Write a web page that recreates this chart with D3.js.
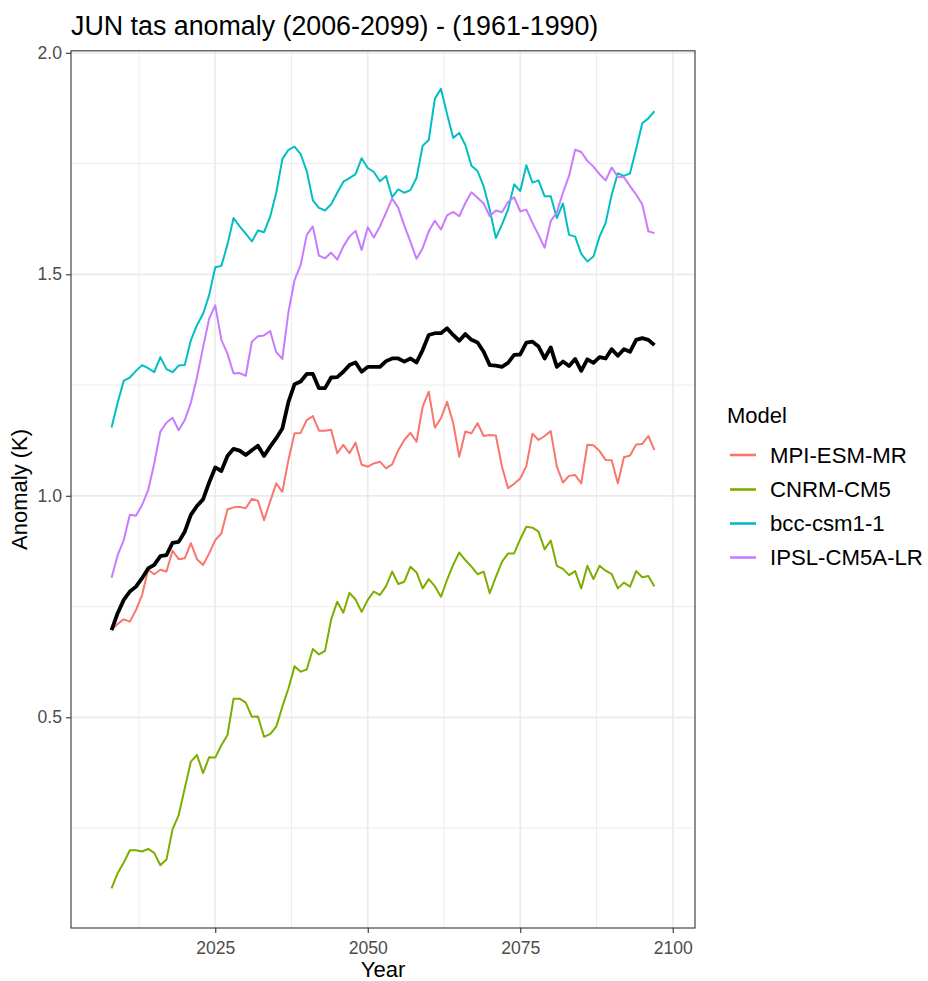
<!DOCTYPE html>
<html><head><meta charset="utf-8">
<script src="https://cdn.jsdelivr.net/npm/d3@7"></script>
<style>
body{margin:0;background:#fff}
text{font-family:"Liberation Sans",Arial,Helvetica,sans-serif}
</style>
</head><body>
<svg id="chart" width="928" height="981"></svg>
<script>
const years = [2008,2009,2010,2011,2012,2013,2014,2015,2016,2017,2018,2019,2020,2021,2022,2023,2024,2025,2026,2027,2028,2029,2030,2031,2032,2033,2034,2035,2036,2037,2038,2039,2040,2041,2042,2043,2044,2045,2046,2047,2048,2049,2050,2051,2052,2053,2054,2055,2056,2057,2058,2059,2060,2061,2062,2063,2064,2065,2066,2067,2068,2069,2070,2071,2072,2073,2074,2075,2076,2077,2078,2079,2080,2081,2082,2083,2084,2085,2086,2087,2088,2089,2090,2091,2092,2093,2094,2095,2096,2097];

const models = ["MPI-ESM-MR","CNRM-CM5","bcc-csm1-1","IPSL-CM5A-LR"];
const modelColors = ["#F8766D","#7CAE00","#00BFC4","#C77CFF"];

const mpiEsmMr = [0.697,0.711,0.721,0.716,0.742,0.776,0.833,0.823,0.833,0.829,0.876,0.857,0.859,0.893,0.857,0.844,0.870,0.900,0.915,0.969,0.974,0.975,0.972,0.993,0.989,0.945,0.987,1.028,1.009,1.081,1.141,1.142,1.171,1.180,1.147,1.147,1.149,1.096,1.115,1.096,1.120,1.070,1.066,1.073,1.077,1.062,1.071,1.103,1.126,1.142,1.122,1.201,1.235,1.154,1.175,1.212,1.165,1.088,1.145,1.141,1.164,1.135,1.137,1.136,1.066,1.017,1.027,1.039,1.067,1.140,1.126,1.135,1.146,1.066,1.030,1.045,1.047,1.028,1.115,1.114,1.101,1.081,1.080,1.028,1.087,1.091,1.116,1.117,1.135,1.103];

const cnrmCm5 = [0.114,0.148,0.172,0.200,0.200,0.197,0.203,0.194,0.166,0.179,0.247,0.279,0.340,0.400,0.415,0.374,0.410,0.409,0.437,0.460,0.542,0.542,0.533,0.501,0.502,0.456,0.462,0.479,0.524,0.565,0.615,0.603,0.608,0.654,0.642,0.650,0.721,0.761,0.736,0.781,0.766,0.738,0.765,0.784,0.776,0.796,0.829,0.801,0.806,0.840,0.827,0.791,0.812,0.796,0.772,0.810,0.844,0.872,0.855,0.840,0.823,0.829,0.780,0.817,0.851,0.870,0.870,0.902,0.930,0.928,0.919,0.879,0.899,0.842,0.835,0.821,0.830,0.791,0.842,0.812,0.842,0.831,0.823,0.791,0.804,0.795,0.830,0.816,0.819,0.795];

const bccCsm11 = [1.154,1.210,1.260,1.267,1.282,1.295,1.288,1.279,1.313,1.286,1.279,1.294,1.295,1.351,1.385,1.411,1.453,1.516,1.519,1.567,1.627,1.608,1.592,1.574,1.599,1.595,1.630,1.684,1.760,1.781,1.788,1.771,1.733,1.667,1.650,1.644,1.658,1.684,1.709,1.717,1.726,1.762,1.740,1.731,1.710,1.722,1.674,1.692,1.684,1.690,1.718,1.790,1.803,1.896,1.919,1.862,1.808,1.819,1.792,1.745,1.733,1.699,1.646,1.582,1.612,1.646,1.703,1.688,1.746,1.707,1.712,1.676,1.676,1.627,1.660,1.589,1.585,1.546,1.529,1.540,1.585,1.616,1.680,1.728,1.722,1.728,1.783,1.841,1.852,1.868];

const ipslCm5aLr = [0.815,0.866,0.900,0.957,0.955,0.979,1.013,1.073,1.145,1.165,1.176,1.148,1.171,1.210,1.267,1.335,1.400,1.430,1.352,1.321,1.276,1.277,1.271,1.348,1.360,1.362,1.372,1.324,1.309,1.415,1.487,1.521,1.589,1.608,1.542,1.536,1.549,1.533,1.563,1.585,1.598,1.555,1.606,1.583,1.608,1.639,1.671,1.650,1.610,1.573,1.535,1.559,1.597,1.621,1.601,1.633,1.641,1.631,1.661,1.685,1.673,1.660,1.631,1.644,1.640,1.663,1.674,1.642,1.646,1.616,1.589,1.560,1.620,1.640,1.684,1.722,1.781,1.776,1.756,1.743,1.726,1.712,1.741,1.720,1.719,1.699,1.680,1.658,1.597,1.593];

const ensembleMean = [0.697,0.735,0.765,0.784,0.795,0.814,0.836,0.844,0.864,0.866,0.894,0.896,0.919,0.957,0.977,0.992,1.030,1.064,1.056,1.090,1.106,1.102,1.092,1.103,1.113,1.090,1.111,1.130,1.152,1.212,1.252,1.258,1.275,1.275,1.243,1.243,1.267,1.268,1.280,1.295,1.301,1.280,1.291,1.291,1.291,1.304,1.310,1.310,1.303,1.310,1.301,1.329,1.363,1.367,1.367,1.378,1.363,1.350,1.365,1.352,1.346,1.325,1.295,1.294,1.291,1.300,1.318,1.319,1.346,1.348,1.337,1.310,1.335,1.291,1.303,1.293,1.309,1.282,1.308,1.300,1.313,1.310,1.331,1.316,1.331,1.325,1.352,1.356,1.352,1.340];

const seriesValues = [mpiEsmMr, cnrmCm5, bccCsm11, ipslCm5aLr];

const xTicks = [2025,2050,2075,2100];
const xMinor = [2012.5,2037.5,2062.5,2087.5];
const yTicks = [0.5,1.0,1.5,2.0];
const yMinor = [0.25,0.75,1.25,1.75];
const xDomain = [2001.35, 2103.65];
const yDomain = [0.0244, 2.0045];

const titleText = "JUN tas anomaly (2006-2099) - (1961-1990)";
const xTitle = "Year";
const yTitle = "Anomaly (K)";
const legendTitle = "Model";

// layout
const P = {left:71, right:695, top:50.8, bottom:928};
const svg = d3.select("#chart");
const x = d3.scaleLinear().domain(xDomain).range([P.left, P.right]);
const y = d3.scaleLinear().domain(yDomain).range([P.bottom, P.top]);

svg.append("rect").attr("width",928).attr("height",981).attr("fill","#fff");

// grid
const g = svg.append("g");
g.selectAll(".xm").data(xMinor).join("line")
  .attr("x1",d=>x(d)).attr("x2",d=>x(d)).attr("y1",P.top).attr("y2",P.bottom)
  .attr("stroke","#EBEBEB").attr("stroke-width",0.9);
g.selectAll(".ym").data(yMinor).join("line")
  .attr("y1",d=>y(d)).attr("y2",d=>y(d)).attr("x1",P.left).attr("x2",P.right)
  .attr("stroke","#EBEBEB").attr("stroke-width",0.9);
g.selectAll(".xM").data(xTicks).join("line")
  .attr("x1",d=>x(d)).attr("x2",d=>x(d)).attr("y1",P.top).attr("y2",P.bottom)
  .attr("stroke","#EBEBEB").attr("stroke-width",1.7);
g.selectAll(".yM").data(yTicks).join("line")
  .attr("y1",d=>y(d)).attr("y2",d=>y(d)).attr("x1",P.left).attr("x2",P.right)
  .attr("stroke","#EBEBEB").attr("stroke-width",1.7);

// lines
const line = d3.line().x((d,i)=>x(years[i])).y(d=>y(d));
const clip = svg.append("clipPath").attr("id","clp").append("rect")
  .attr("x",P.left).attr("y",P.top).attr("width",P.right-P.left).attr("height",P.bottom-P.top);
const lg = svg.append("g").attr("clip-path","url(#clp)");
seriesValues.forEach((vals,k)=>{
  lg.append("path").datum(vals).attr("d",line).attr("fill","none")
    .attr("stroke",modelColors[k]).attr("stroke-width",2)
    .attr("stroke-linejoin","round").attr("stroke-linecap","butt");
});
lg.append("path").datum(ensembleMean).attr("d",line).attr("fill","none")
  .attr("stroke","#000").attr("stroke-width",3.8)
  .attr("stroke-linejoin","round").attr("stroke-linecap","butt");

// panel border
svg.append("rect").attr("x",P.left).attr("y",P.top)
  .attr("width",P.right-P.left).attr("height",P.bottom-P.top)
  .attr("fill","none").attr("stroke","#333333").attr("stroke-width",1.1);

// axes
const xAxis = d3.axisBottom(x).tickValues(xTicks).tickFormat(d3.format("d")).tickSize(5).tickPadding(4);
const yAxis = d3.axisLeft(y).tickValues(yTicks).tickFormat(d3.format(".1f")).tickSize(5).tickPadding(4);
const gx = svg.append("g").attr("transform",`translate(0,${P.bottom})`).call(xAxis);
const gy = svg.append("g").attr("transform",`translate(${P.left},0)`).call(yAxis);
[gx,gy].forEach(a=>{
  a.select(".domain").remove();
  a.selectAll(".tick line").attr("stroke","#333333").attr("stroke-width",1.1);
  a.selectAll(".tick text").attr("fill","#4D4D4D").style("font-size","17.6px")
    .style("font-family",'"Liberation Sans",Arial,sans-serif');
});
gx.selectAll(".tick text").attr("dy","0.95em");

// titles
svg.append("text").attr("x",P.left).attr("y",34.5).text(titleText)
  .style("font-size","26.8px").attr("fill","#000");
svg.append("text").attr("x",(P.left+P.right)/2).attr("y",977).attr("text-anchor","middle")
  .text(xTitle).style("font-size","22px").attr("fill","#000");
svg.append("text").attr("transform",`translate(27,${(P.top+P.bottom)/2}) rotate(-90)`)
  .attr("text-anchor","middle").text(yTitle).style("font-size","22px").attr("fill","#000");

// legend
const leg = svg.append("g");
leg.append("text").attr("x",727).attr("y",423).text(legendTitle).style("font-size","22px").attr("fill","#000");
const keyY = [455, 489.5, 523.5, 557.5];
models.forEach((m,i)=>{
  leg.append("line").attr("x1",730).attr("x2",756).attr("y1",keyY[i]).attr("y2",keyY[i])
    .attr("stroke",modelColors[i]).attr("stroke-width",2.6);
  leg.append("text").attr("x",770).attr("y",keyY[i]).attr("dy","0.36em").text(m)
    .style("font-size","22.2px").attr("fill","#000");
});
</script>
</body></html>
